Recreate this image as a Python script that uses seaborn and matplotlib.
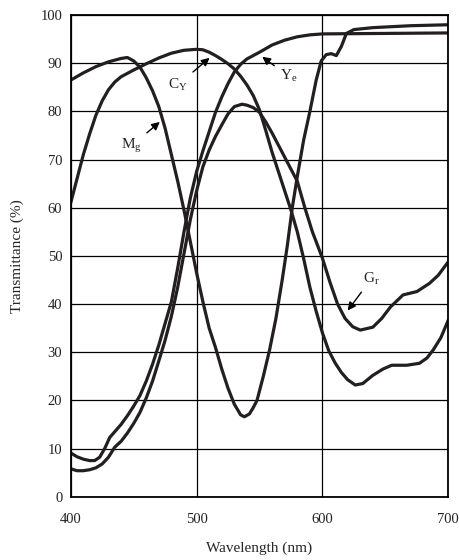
import pandas as pd
import matplotlib
matplotlib.use("Agg")
import matplotlib.pyplot as plt
import seaborn as sns

# transmittance curves (wavelength nm, %)
wl_mg = [400, 410, 420, 430, 440, 445, 450, 455, 460, 465, 470, 475, 480, 485, 490, 495, 500, 505, 510, 515,
         520, 525, 530, 535, 538, 542, 545, 548, 553, 558, 563, 568, 572, 576, 580, 585, 590, 595, 599, 603,
         607, 611, 615, 619, 625, 640, 670, 700]
mg = [86.5, 88, 89.3, 90.3, 91, 91.2, 90.5, 89.2, 87, 84.3, 81, 76.5, 71, 65.5, 59.5, 53, 46.5, 40.5, 35, 31,
      26.5, 22.5, 19.2, 17, 16.6, 17.2, 18.5, 20, 25, 30.5, 37, 45, 52, 60, 66.5, 74, 80, 86.5, 90.5, 91.8,
      92, 91.6, 93.5, 96.2, 97, 97.4, 97.8, 98]

wl_cy = [400, 405, 410, 415, 420, 425, 430, 435, 440, 450, 460, 470, 480, 490, 500, 505, 510, 515, 520, 525, 530,
         535, 540, 545, 550, 555, 560, 565, 570, 575, 580, 585, 590, 595, 600, 605, 610, 615, 620, 626, 632,
         640, 648, 655, 667, 677, 683, 688, 694, 700]
cy = [61, 66, 71, 75.3, 79.2, 82.2, 84.5, 86.1, 87.2, 88.6, 89.9, 91.1, 92.1, 92.7, 92.9, 92.8, 92.3, 91.6, 90.8, 89.9, 88.8,
      87.3, 85.5, 83.3, 80.3, 76, 71.5, 67.5, 63.5, 59.5, 55, 49.5, 43.5, 38.5, 34, 30.3, 27.8, 25.8, 24.3, 23.2, 23.5,
      25.2, 26.5, 27.3, 27.3, 27.7, 28.8, 30.5, 33, 36.7]

wl_ye = [400, 405, 410, 415, 419, 423, 427, 431, 435, 440, 445, 450, 455, 460, 465, 470, 475, 480, 485, 490,
         495, 500, 505, 510, 515, 520, 525, 530, 535, 540, 550, 560, 570, 580, 590, 600, 650, 700]
ye = [9.1, 8.3, 7.8, 7.5, 7.5, 8.2, 10, 12.3, 13.5, 15, 16.8, 18.8, 21, 24, 27.5, 31.5, 36, 40.5, 47.5, 55,
      62, 67.5, 71.8, 75.8, 79.8, 83, 85.8, 88.2, 89.8, 90.9, 92.3, 93.8, 94.8, 95.5, 95.9, 96.1, 96.2, 96.3]

wl_gr = [400, 405, 410, 415, 420, 425, 430, 435, 440, 445, 450, 455, 460, 465, 470, 475, 480, 485, 490, 495,
         500, 505, 510, 515, 520, 525, 530, 536, 540, 545, 550, 555, 560, 565, 570, 575, 580, 586, 592, 600,
         606, 612, 618, 624, 630, 640, 647, 654, 664, 675, 685, 692, 700]
gr = [5.8, 5.4, 5.4, 5.6, 6, 6.8, 8.2, 10.3, 11.5, 13.2, 15.2, 17.5, 20.5, 24, 28.2, 32.5, 37.5, 43.5, 50.5, 57.5,
      63.5, 68.5, 72, 74.8, 77.2, 79.5, 81, 81.5, 81.3, 80.8, 79.8, 77.8, 75.5, 73, 70.5, 68, 65.5, 60, 55, 49.5,
      44.5, 40, 37, 35.3, 34.6, 35.2, 37, 39.4, 41.9, 42.6, 44.3, 46, 48.8]

x_ticks = [400, 500, 600, 700]
y_ticks = [0, 10, 20, 30, 40, 50, 60, 70, 80, 90, 100]

sns.set_theme(style="white")
plt.rcParams["font.family"] = ["Liberation Serif", "DejaVu Serif"]
plt.rcParams["mathtext.fontset"] = "stix"

fig = plt.figure(figsize=(4.6, 5.6), dpi=100)
ax = fig.add_axes([0.1537, 0.113, 0.821, 0.86])

ink = "#231f20"
for wl, vals in [(wl_mg, mg), (wl_cy, cy), (wl_ye, ye), (wl_gr, gr)]:
    sns.lineplot(x=wl, y=vals, ax=ax, color=ink, lw=2.3, estimator=None, sort=False)

ax.set_xlim(400, 700)
ax.set_ylim(0, 100)
ax.set_xticks(x_ticks)
ax.set_yticks(y_ticks)
ax.grid(True, color="black", lw=0.9)
for s in ax.spines.values():
    s.set_color("black")
    s.set_linewidth(1.3)
ax.tick_params(length=0, labelsize=10.5, colors="#222222")
ax.tick_params(axis="x", pad=12)
ax.tick_params(axis="y", pad=6)
ax.set_xlabel("Wavelength (nm)", fontsize=11, labelpad=11)
ax.set_ylabel("Transmittance (%)", fontsize=11, labelpad=12)

arrow = dict(arrowstyle="-|>", color="black", lw=1.0, mutation_scale=12)
lab = dict(fontsize=11, ha="center", va="center", color="#222222")
ax.annotate(r"$\mathregular{C_Y}$", xy=(512, 91.5), xytext=(485, 85.5), arrowprops=arrow, **lab)
ax.annotate(r"$\mathregular{M_g}$", xy=(472.5, 78.2), xytext=(448, 72.8), arrowprops=arrow, **lab)
ax.annotate(r"$\mathregular{Y_e}$", xy=(550.4, 91.7), xytext=(573, 87.3), arrowprops=arrow, **lab)
ax.annotate(r"$\mathregular{G_r}$", xy=(618.7, 38.2), xytext=(639, 45.3), arrowprops=arrow, **lab)

fig.savefig("out.png", dpi=100)
